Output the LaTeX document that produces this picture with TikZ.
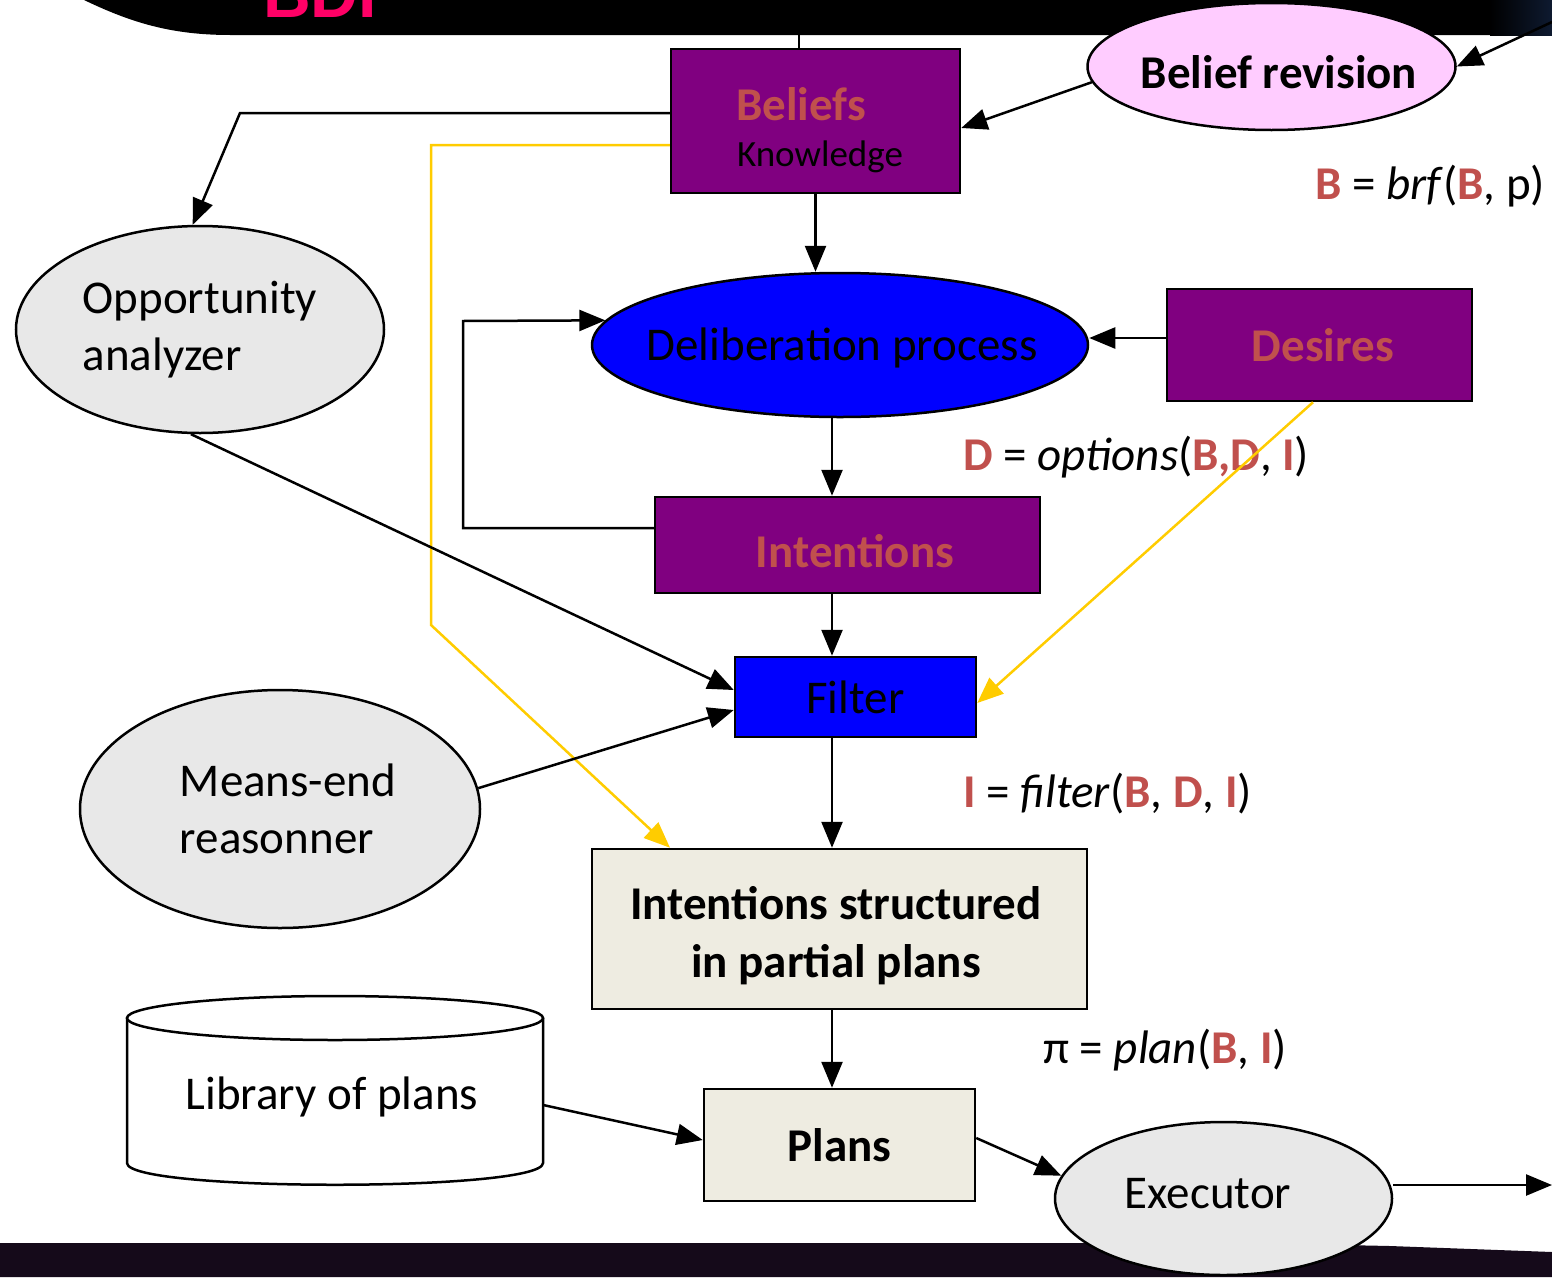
\documentclass[tikz,border=0pt]{standalone}
\usepackage{fontspec}
\setmainfont{Carlito}
\newfontfamily\titlefont{Liberation Sans}
\usetikzlibrary{shapes.geometric,arrows.meta}

\definecolor{purp}{HTML}{800080}
\definecolor{redtext}{HTML}{C0504D}
\definecolor{pinkfill}{HTML}{FFCCFF}
\definecolor{greyfill}{HTML}{E8E8E8}
\definecolor{beige}{HTML}{EEECE1}
\definecolor{goldline}{HTML}{FFCC00}
\definecolor{titlepink}{HTML}{FF0066}
\definecolor{darkband}{HTML}{150A1A}
\definecolor{navyedge}{HTML}{0E1A30}

\begin{document}
\begin{tikzpicture}[x=1pt,y=-1pt,
  every node/.style={font=\fontsize{47}{57}\selectfont},
  arr/.style={line width=2.5pt,-{Triangle[length=26pt,width=21pt]}},
  yarr/.style={draw=goldline,line width=2.5pt,-{Triangle[length=26pt,width=21pt]}},
  box/.style={draw,line width=2.5pt,rectangle,inner sep=0pt},
  oval/.style={draw,line width=2.5pt,ellipse,inner sep=0pt},
  rb/.style={text=redtext,font=\bfseries\fontsize{47}{57}\selectfont},
  bold/.style={font=\bfseries\fontsize{47}{58}\selectfont},
  txt/.style={anchor=base,inner sep=0pt},
]
\useasboundingbox (0,0) rectangle (1552,1277);

% header band
\fill[black] (84,0) .. controls (130,22) and (170,35) .. (230,35) -- (1552,35) -- (1552,0) -- cycle;
\shade[left color=black,right color=navyedge] (1490,0) rectangle (1552,35);
\node[anchor=base west,inner sep=0pt,text=titlepink,font=\titlefont\bfseries\fontsize{66}{66}\selectfont] (ttl) at (263,17) {BDI};

% footer band
\fill[darkband] (0,1243) -- (1040,1243) .. controls (1200,1243) and (1300,1244) .. (1390,1246) -- (1552,1252) -- (1552,1277) -- (0,1277) -- cycle;

% library of plans (cylinder)
\draw[line width=2.5pt,fill=white] (127,1018) -- (127,1163) .. controls (127,1192) and (543,1192) .. (543,1163) -- (543,1018);
\draw[line width=2.5pt,fill=white] (335,1018) ellipse [x radius=208,y radius=22];
\node[minimum width=416pt,minimum height=160pt,inner sep=0pt] (lib) at (335,1097) {\hspace{-6pt}Library of plans};

% boxes
\node[box,fill=purp,minimum width=289pt,minimum height=144pt] (beliefs) at (815.5,121) {};
\node[rb,txt] (beltitle) at (801,120) {Beliefs};
\node[txt,font=\fontsize{37}{44}\selectfont] (belsub) at (820,166) {Knowledge};

\node[box,fill=purp,minimum width=305pt,minimum height=112pt,rb] (desires) at (1319.5,345) {\hspace{7pt}Desires};
\node[box,fill=purp,minimum width=385pt,minimum height=96pt] (intent) at (847.5,545) {};
\node[rb,txt] (inttext) at (855,567) {Intentions};
\node[box,fill=blue,minimum width=241pt,minimum height=80pt] (filter) at (855.5,697) {Filter};
\node[box,fill=beige,minimum width=495pt,minimum height=160pt] (isp) at (839.5,929) {};
\node[bold,align=center,inner sep=0pt] (isptext) at (836,936) {Intentions structured\\in partial plans};
\node[box,fill=beige,minimum width=271pt,minimum height=112pt,bold] (plans) at (839.5,1145) {Plans};

% ellipses
\node[oval,fill=pinkfill,minimum width=368pt,minimum height=127pt] (brev) at (1271.5,66.5) {};
\node[txt,font=\bfseries\fontsize{47}{57}\selectfont] (brevtext) at (1279,88) {Belief revision};
\node[oval,fill=blue,minimum width=496pt,minimum height=144pt] (delib) at (840,345) {};
\node[txt] (delibtext) at (842,360) {Deliberation process};
\node[oval,fill=greyfill,minimum width=368pt,minimum height=207pt,align=left] (opp) at (200,329.5) {Opportunity\\analyzer};
\node[oval,fill=greyfill,minimum width=400pt,minimum height=238pt,align=left] (means) at (280,809) {\hspace{16pt}Means-end\\\hspace{16pt}reasonner};
\node[oval,fill=greyfill,minimum width=337pt,minimum height=153pt] (exec) at (1223.5,1198.5) {};
\node[txt] (exectext) at (1208,1208) {Executor};

% formulas
\node[anchor=base west,inner sep=0pt] (fB) at (1315,199) {\textcolor{redtext}{\bfseries B} = \textit{brf}(\textcolor{redtext}{\bfseries B}, p)};
\node[anchor=base west,inner sep=0pt] (fD) at (963,470) {\textcolor{redtext}{\bfseries D} = \textit{options}(\textcolor{redtext}{\bfseries B,D}, \textcolor{redtext}{\bfseries I})};
\node[anchor=base west,inner sep=0pt] (fI) at (963,807) {\textcolor{redtext}{\bfseries I} = \textit{filter}(\textcolor{redtext}{\bfseries B}, \textcolor{redtext}{\bfseries D}, \textcolor{redtext}{\bfseries I})};
\node[anchor=base west,inner sep=0pt] (fP) at (1043,1063) {π = \textit{plan}(\textcolor{redtext}{\bfseries B}, \textcolor{redtext}{\bfseries I})};

% connectors
\coordinate (percept) at (1552,22);
\coordinate (action) at (1552,1185);
\coordinate (headerlink) at (799,35);

\draw[line width=2.5pt] (beliefs.north -| headerlink) -- (headerlink);
\draw[arr] (percept) -- (brev.east);
\draw[arr] (brev.185) -- ([yshift=-7pt]beliefs.east);
\draw[arr] (beliefs.west |- 0,113) -- (240,113) -- (opp.94);
\draw[yarr] (beliefs.west |- 0,145) -- (431,145) -- (431,625) -- (isp.north west -| 670,0);
\draw[arr] (beliefs.south) -- (beliefs.south |- delib.north);
\draw[arr] (desires.west |- 0,338) -- (delib.east |- 0,338);
\draw[arr] (intent.west |- 0,528) -- (463,528) -- (463,321) -- (delib.174);
\draw[arr] (delib.south -| 832,0) -- (intent.north -| 832,0);
\draw[arr] (intent.south -| 832,0) -- (filter.north -| 832,0);
\draw[yarr] (desires.south -| 1313,0) -- ([yshift=-6pt]filter.east);
\draw[arr] (opp.265) -- ([yshift=7pt]filter.west);
\draw[arr] (means.6) -- ([yshift=-13pt]filter.west);
\draw[arr] (filter.south -| 832,0) -- (isp.north -| 832,0);
\draw[arr] (isp.south -| 832,0) -- (plans.north -| 832,0);
\draw[arr] (lib.east |- 0,1105) -- ([yshift=5pt]plans.west);
\draw[arr] ([yshift=7pt]plans.east) -- (exec.172);
\draw[arr] (exec.east |- action) -- (action);
\end{tikzpicture}
\end{document}
